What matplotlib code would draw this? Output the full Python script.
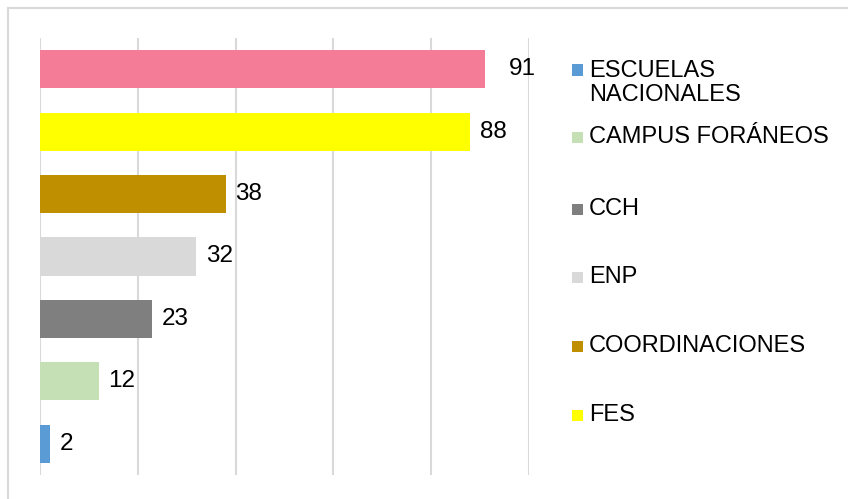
import matplotlib
matplotlib.use("Agg")
import matplotlib.pyplot as plt
from matplotlib.patches import Rectangle
from matplotlib.lines import Line2D

plt.rcParams['font.family'] = ['Liberation Sans', 'DejaVu Sans']

categories = ["ESCUELAS\nNACIONALES", "CAMPUS FORÁNEOS", "CCH", "ENP",
              "COORDINACIONES", "FES", "FACULTADES"]
values = [2, 12, 23, 32, 38, 88, 91]
colors = ["#5B9BD5", "#C5E0B4", "#7F7F7F", "#D9D9D9", "#BF8F00", "#FFFF00", "#F47C97"]
legend_count = 6
x_ticks = [0, 20, 40, 60, 80, 100]

W, H = 848, 499
fig = plt.figure(figsize=(W / 100, H / 100), dpi=100)

# chart outer border (top and left visible)
fig.add_artist(Line2D([7.5 / W, 1], [1 - 7.5 / H, 1 - 7.5 / H], color="#D9D9D9", lw=1.5))
fig.add_artist(Line2D([7.5 / W, 7.5 / W], [0, 1 - 7.5 / H], color="#D9D9D9", lw=1.5))

ax = fig.add_axes([40 / W, 1 - 475 / H, (529 - 40) / W, (475 - 38) / H])
ypos = list(range(len(values)))
ax.barh(ypos, values, height=0.61, color=colors, zorder=3)
ax.set_xlim(0, 100)
ax.set_ylim(-0.5, len(values) - 0.5)
ax.set_xticks(x_ticks)
ax.grid(axis='x', color="#D9D9D9", lw=1.5, zorder=0)
ax.tick_params(left=False, bottom=False, labelleft=False, labelbottom=False)
for s in ax.spines.values():
    s.set_visible(False)

for y, v in zip(ypos, values):
    off = 17 if v == max(values) else 7
    ax.annotate(str(v), (v, y), xytext=(off, 0), textcoords="offset points",
                va="center", ha="left", fontsize=17.5, color="#000000", zorder=4)

# legend (manual placement, Excel-style)
legend_y = [83, 137, 209, 277, 346, 415]
for i in range(legend_count):
    yc = legend_y[i]
    my = 70 if "\n" in categories[i] else yc
    fig.add_artist(Rectangle((572 / W, 1 - (my + 5.5) / H), 11 / W, 11 / H,
                             transform=fig.transFigure, color=colors[i], lw=0))
    fig.text(589 / W, 1 - yc / H, categories[i], fontsize=17, va="center",
             ha="left", color="#000000", linespacing=1.07)

fig.savefig("out.png", dpi=100, facecolor="white")
